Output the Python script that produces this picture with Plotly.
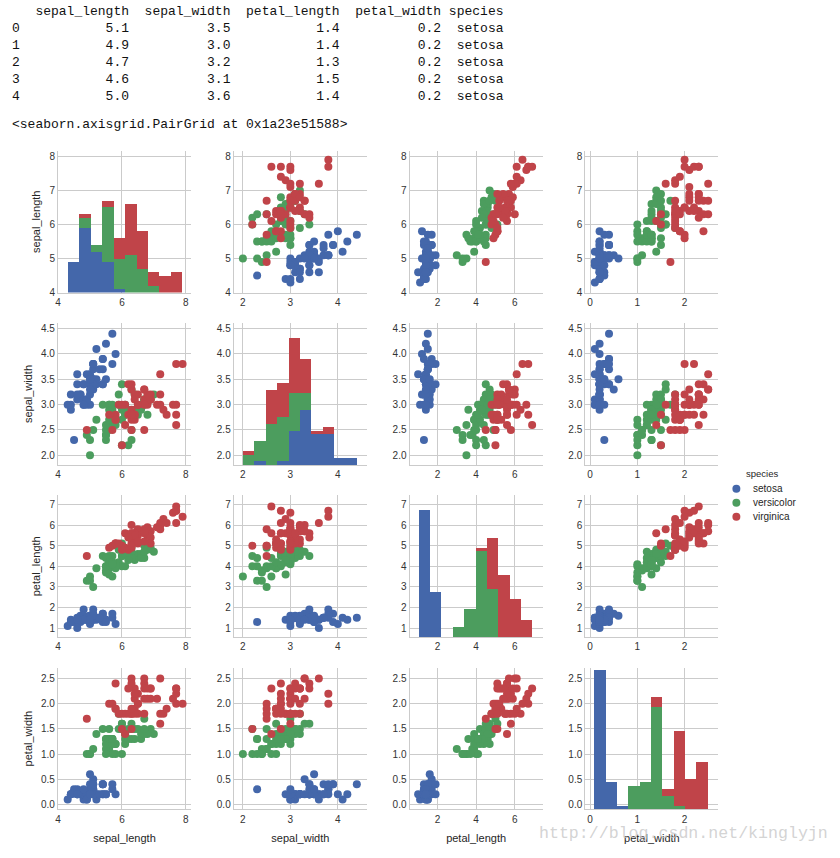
import numpy as np
import plotly.graph_objects as go

# ---------------- data (iris) ----------------
sepal_length = [5.1,4.9,4.7,4.6,5.0,5.4,4.6,5.0,4.4,4.9,5.4,4.8,4.8,4.3,5.8,5.7,5.4,5.1,5.7,5.1,
                5.4,5.1,4.6,5.1,4.8,5.0,5.0,5.2,5.2,4.7,4.8,5.4,5.2,5.5,4.9,5.0,5.5,4.9,4.4,5.1,
                5.0,4.5,4.4,5.0,5.1,4.8,5.1,4.6,5.3,5.0,
                7.0,6.4,6.9,5.5,6.5,5.7,6.3,4.9,6.6,5.2,5.0,5.9,6.0,6.1,5.6,6.7,5.6,5.8,6.2,5.6,
                5.9,6.1,6.3,6.1,6.4,6.6,6.8,6.7,6.0,5.7,5.5,5.5,5.8,6.0,5.4,6.0,6.7,6.3,5.6,5.5,
                5.5,6.1,5.8,5.0,5.6,5.7,5.7,6.2,5.1,5.7,
                6.3,5.8,7.1,6.3,6.5,7.6,4.9,7.3,6.7,7.2,6.5,6.4,6.8,5.7,5.8,6.4,6.5,7.7,7.7,6.0,
                6.9,5.6,7.7,6.3,6.7,7.2,6.2,6.1,6.4,7.2,7.4,7.9,6.4,6.3,6.1,7.7,6.3,6.4,6.0,6.9,
                6.7,6.9,5.8,6.8,6.7,6.7,6.3,6.5,6.2,5.9]
sepal_width = [3.5,3.0,3.2,3.1,3.6,3.9,3.4,3.4,2.9,3.1,3.7,3.4,3.0,3.0,4.0,4.4,3.9,3.5,3.8,3.8,
               3.4,3.7,3.6,3.3,3.4,3.0,3.4,3.5,3.4,3.2,3.1,3.4,4.1,4.2,3.1,3.2,3.5,3.6,3.0,3.4,
               3.5,2.3,3.2,3.5,3.8,3.0,3.8,3.2,3.7,3.3,
               3.2,3.2,3.1,2.3,2.8,2.8,3.3,2.4,2.9,2.7,2.0,3.0,2.2,2.9,2.9,3.1,3.0,2.7,2.2,2.5,
               3.2,2.8,2.5,2.8,2.9,3.0,2.8,3.0,2.9,2.6,2.4,2.4,2.7,2.7,3.0,3.4,3.1,2.3,3.0,2.5,
               2.6,3.0,2.6,2.3,2.7,3.0,2.9,2.9,2.5,2.8,
               3.3,2.7,3.0,2.9,3.0,3.0,2.5,2.9,2.5,3.6,3.2,2.7,3.0,2.5,2.8,3.2,3.0,3.8,2.6,2.2,
               3.2,2.8,2.8,2.7,3.3,3.2,2.8,3.0,2.8,3.0,2.8,3.8,2.8,2.8,2.6,3.0,3.4,3.1,3.0,3.1,
               3.1,3.1,2.7,3.2,3.3,3.0,2.5,3.0,3.4,3.0]
petal_length = [1.4,1.4,1.3,1.5,1.4,1.7,1.4,1.5,1.4,1.5,1.5,1.6,1.4,1.1,1.2,1.5,1.3,1.4,1.7,1.5,
                1.7,1.5,1.0,1.7,1.9,1.6,1.6,1.5,1.4,1.6,1.6,1.5,1.5,1.4,1.5,1.2,1.3,1.4,1.3,1.5,
                1.3,1.3,1.3,1.6,1.9,1.4,1.6,1.4,1.5,1.4,
                4.7,4.5,4.9,4.0,4.6,4.5,4.7,3.3,4.6,3.9,3.5,4.2,4.0,4.7,3.6,4.4,4.5,4.1,4.5,3.9,
                4.8,4.0,4.9,4.7,4.3,4.4,4.8,5.0,4.5,3.5,3.8,3.7,3.9,5.1,4.5,4.5,4.7,4.4,4.1,4.0,
                4.4,4.6,4.0,3.3,4.2,4.2,4.2,4.3,3.0,4.1,
                6.0,5.1,5.9,5.6,5.8,6.6,4.5,6.3,5.8,6.1,5.1,5.3,5.5,5.0,5.1,5.3,5.5,6.7,6.9,5.0,
                5.7,4.9,6.7,4.9,5.7,6.0,4.8,4.9,5.6,5.8,6.1,6.4,5.6,5.1,5.6,6.1,5.6,5.5,4.8,5.4,
                5.6,5.1,5.1,5.9,5.7,5.2,5.0,5.2,5.4,5.1]
petal_width = [0.2,0.2,0.2,0.2,0.2,0.4,0.3,0.2,0.2,0.1,0.2,0.2,0.1,0.1,0.2,0.4,0.4,0.3,0.3,0.3,
               0.2,0.4,0.2,0.5,0.2,0.2,0.4,0.2,0.2,0.2,0.2,0.4,0.1,0.2,0.2,0.2,0.2,0.1,0.2,0.2,
               0.3,0.3,0.2,0.6,0.4,0.3,0.2,0.2,0.2,0.2,
               1.4,1.5,1.5,1.3,1.5,1.3,1.6,1.0,1.3,1.4,1.0,1.5,1.0,1.4,1.3,1.4,1.5,1.0,1.5,1.1,
               1.8,1.3,1.5,1.2,1.3,1.4,1.4,1.7,1.5,1.0,1.1,1.0,1.2,1.6,1.5,1.6,1.5,1.3,1.3,1.3,
               1.2,1.4,1.2,1.0,1.3,1.2,1.3,1.3,1.1,1.3,
               2.5,1.9,2.1,1.8,2.2,2.1,1.7,1.8,1.8,2.5,2.0,1.9,2.1,2.0,2.4,2.3,1.8,2.2,2.3,1.5,
               2.3,2.0,2.0,1.8,2.1,1.8,1.8,1.8,2.1,1.6,1.9,2.0,2.2,1.5,1.4,2.3,2.4,1.8,1.8,2.1,
               2.4,2.3,1.9,2.3,2.5,2.3,1.9,2.0,2.3,1.8]
species = ["setosa"] * 50 + ["versicolor"] * 50 + ["virginica"] * 50

species_names = ["setosa", "versicolor", "virginica"]
variables = ["sepal_length", "sepal_width", "petal_length", "petal_width"]

# tick labels
x_ticks = {
    "sepal_length": ([4, 6, 8], ["4", "6", "8"]),
    "sepal_width": ([2, 3, 4], ["2", "3", "4"]),
    "petal_length": ([2, 4, 6], ["2", "4", "6"]),
    "petal_width": ([0, 1, 2], ["0", "1", "2"]),
}
y_ticks = {
    "sepal_length": ([4, 5, 6, 7, 8], ["4", "5", "6", "7", "8"]),
    "sepal_width": ([2.0, 2.5, 3.0, 3.5, 4.0, 4.5], ["2.0", "2.5", "3.0", "3.5", "4.0", "4.5"]),
    "petal_length": ([1, 2, 3, 4, 5, 6, 7], ["1", "2", "3", "4", "5", "6", "7"]),
    "petal_width": ([0.0, 0.5, 1.0, 1.5, 2.0, 2.5], ["0.0", "0.5", "1.0", "1.5", "2.0", "2.5"]),
}
axis_ranges = {
    "sepal_length": [4.0, 8.165],
    "sepal_width": [1.81, 4.61],
    "petal_length": [0.56, 7.44],
    "petal_width": [-0.1, 2.715],
}

# ---------------- styling ----------------
colors = {"setosa": "#4467AA", "versicolor": "#4C9D5E", "virginica": "#C04449"}
W, H = 840, 858
col_left = [55.3, 231.7, 408.1, 584.5]
cell_w = 133.4
row_top = [151.7, 325.0, 498.3, 671.6]
cell_h = 142.6
grid_col = "#cbcbcb"
sans = "Liberation Sans, Arial, sans-serif"
tick_font = dict(family=sans, size=10, color="#333333")
label_font = dict(family=sans, size=11, color="#262626")

data = {
    "sepal_length": np.array(sepal_length),
    "sepal_width": np.array(sepal_width),
    "petal_length": np.array(petal_length),
    "petal_width": np.array(petal_width),
}
sp = np.array(species)

fig = go.Figure()
layout = dict(
    width=W, height=H,
    margin=dict(l=0, r=0, t=0, b=0),
    paper_bgcolor="white", plot_bgcolor="white",
    barmode="stack", bargap=0,
    showlegend=False,
    font=dict(family=sans),
)

for r in range(4):
    for c in range(4):
        k = r * 4 + c + 1
        xs = "" if k == 1 else str(k)
        xv, yv = variables[c], variables[r]
        x0 = col_left[c] / W
        x1 = (col_left[c] + cell_w) / W
        y1 = 1 - row_top[r] / H
        y0 = 1 - (row_top[r] + cell_h) / H
        xt, xl = x_ticks[xv]
        yt, yl = y_ticks[yv]
        layout["xaxis" + xs] = dict(
            domain=[x0, x1], anchor="y" + xs, range=axis_ranges[xv],
            tickvals=xt, ticktext=xl, tickfont=tick_font, ticks="",
            showgrid=True, gridcolor=grid_col, gridwidth=1, zeroline=False,
            showline=True, linecolor=grid_col, linewidth=1.3,
            title=dict(text=xv if r == 3 else "", font=label_font, standoff=10),
        )
        layout["yaxis" + xs] = dict(
            domain=[y0, y1], anchor="x" + xs, range=axis_ranges[yv],
            tickvals=yt, ticktext=yl, tickfont=tick_font, ticks="",
            showgrid=True, gridcolor=grid_col, gridwidth=1, zeroline=False,
            showline=True, linecolor=grid_col, linewidth=1.3,
            title=dict(text=yv if c == 0 else "", font=label_font, standoff=6),
        )
        if r == c:
            # empty trace so the cell's own (row-variable) axes are drawn
            fig.add_trace(go.Scatter(x=[], y=[], mode="markers", xaxis="x" + xs,
                                     yaxis="y" + xs, showlegend=False, hoverinfo="skip"))
            hy = str(17 + r)
            vals = data[xv]
            edges = np.histogram(vals, bins=10)[1]
            centers = (edges[:-1] + edges[1:]) / 2
            widths = np.diff(edges)
            # hidden count axis laid over the cell
            layout["yaxis" + hy] = dict(
                domain=[y0, y1], overlaying="y" + xs, anchor="x" + xs, range=[0, 41.5],
                showgrid=False, zeroline=False, showline=False, showticklabels=False,
                ticks="", fixedrange=True,
            )
            for s in species_names:
                counts, _ = np.histogram(vals[sp == s], bins=edges)
                fig.add_trace(go.Bar(
                    x=centers, y=counts, width=widths,
                    marker=dict(color=colors[s], line=dict(width=0)),
                    xaxis="x" + xs, yaxis="y" + hy, showlegend=False, name=s,
                ))
        else:
            for s in species_names:
                m = sp == s
                fig.add_trace(go.Scatter(
                    x=data[xv][m], y=data[yv][m], mode="markers",
                    marker=dict(color=colors[s], size=8, line=dict(width=0)),
                    xaxis="x" + xs, yaxis="y" + xs, name=s, showlegend=False,
                ))

annotations = []
shapes = []

# ---------------- legend (drawn by hand to match the compact seaborn legend) ----------------
leg_font = dict(family=sans, size=10, color="#262626")
annotations.append(dict(
    text="species", x=744 / W, y=1 - 476.7 / H, xref="paper", yref="paper",
    xanchor="left", yanchor="middle", showarrow=False,
    font=dict(family=sans, size=9.5, color="#262626"),
))
for i, s in enumerate(species_names):
    yc = 491.7 + 14 * i
    shapes.append(dict(
        type="circle", xref="paper", yref="paper",
        x0=(736 - 4) / W, x1=(736 + 4) / W,
        y0=1 - (yc + 4) / H, y1=1 - (yc - 4) / H,
        fillcolor=colors[s], line=dict(width=0),
    ))
    annotations.append(dict(
        text=s, x=751 / W, y=1 - yc / H, xref="paper", yref="paper",
        xanchor="left", yanchor="middle", showarrow=False, font=leg_font,
    ))

# ---------------- header text (DataFrame.head() output) ----------------
NB = "\u00a0"
header = " " + "sepal_length".rjust(14) + "sepal_width".rjust(13) + \
    "petal_length".rjust(14) + "petal_width".rjust(13) + "species".rjust(8)
lines = [header]
for i in range(5):
    lines.append(f"{i:<1}{sepal_length[i]:>14.1f}{sepal_width[i]:>13.1f}"
                 f"{petal_length[i]:>14.1f}{petal_width[i]:>13.1f}{species[i]:>8}")
line_y = [11.7, 29.0, 45.9, 62.8, 79.7, 96.6]
mono = dict(family="Liberation Mono, Courier New, monospace", size=13, color="#111111")
for ln, yy in zip(lines, line_y):
    annotations.append(dict(
        text=ln.replace(" ", NB), x=7 / W, y=1 - yy / H, xref="paper", yref="paper",
        xanchor="left", yanchor="middle", showarrow=False, font=mono,
    ))
annotations.append(dict(
    text="<seaborn.axisgrid.PairGrid at 0x1a23e51588>".replace("<", "&lt;").replace(">", "&gt;"),
    x=7 / W, y=1 - 125 / H, xref="paper", yref="paper",
    xanchor="left", yanchor="middle", showarrow=False, font=mono,
))
# watermark
annotations.append(dict(
    text="http://blog.csdn.net/kinglyjn", x=536 / W, y=1 - 838 / H,
    xref="paper", yref="paper", xanchor="left", yanchor="middle", showarrow=False,
    font=dict(family="Liberation Mono, Courier New, monospace", size=16.6,
              color="rgba(200,200,200,0.8)"),
))
layout["annotations"] = annotations
layout["shapes"] = shapes

fig.update_layout(**layout)
fig.write_html("out.html", config={"displayModeBar": False},
               post_script="document.body.style.margin='0';")
